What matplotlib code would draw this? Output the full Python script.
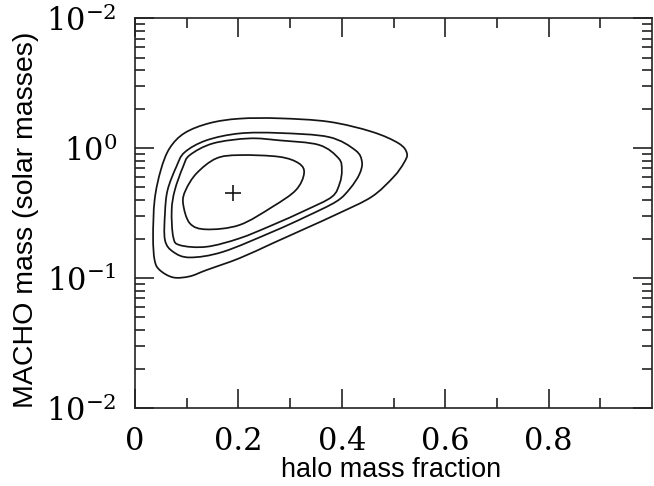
import numpy as np
import matplotlib.pyplot as plt
from matplotlib.path import Path
from matplotlib.patches import PathPatch
from matplotlib.ticker import FixedLocator, NullFormatter

plt.rcParams['mathtext.fontset'] = 'dejavuserif'

# contour outlines (halo fraction, MACHO mass)
c1_x = [0.327, 0.317, 0.279, 0.202, 0.157, 0.119, 0.098, 0.093, 0.106, 0.138, 0.202, 0.266, 0.311]
c1_m = [0.640, 0.764, 0.859, 0.885, 0.834, 0.640, 0.475, 0.376, 0.264, 0.237, 0.256, 0.354, 0.475]

c2_x = [0.400, 0.394, 0.356, 0.279, 0.221, 0.151, 0.106, 0.093, 0.077, 0.071, 0.074, 0.087,
        0.138, 0.202, 0.266, 0.330, 0.381, 0.396]
c2_m = [0.678, 0.834, 1.06, 1.15, 1.19, 1.09, 0.885, 0.72, 0.475, 0.333, 0.207, 0.179,
        0.174, 0.202, 0.256, 0.333, 0.423, 0.538]

c3_x = [0.439, 0.426, 0.375, 0.279, 0.202, 0.138, 0.096, 0.080, 0.063, 0.058, 0.058, 0.074,
        0.106, 0.170, 0.266, 0.330, 0.390, 0.416, 0.434]
c3_m = [0.785, 0.966, 1.22, 1.31, 1.30, 1.15, 0.93, 0.72, 0.475, 0.315, 0.196, 0.159,
        0.144, 0.159, 0.227, 0.296, 0.39, 0.49, 0.63]

c4_x = [0.526, 0.510, 0.458, 0.375, 0.279, 0.202, 0.144, 0.096, 0.067, 0.050, 0.038, 0.035,
        0.038, 0.048, 0.074, 0.106, 0.138, 0.202, 0.266, 0.330, 0.394, 0.458, 0.500, 0.520]
c4_m = [0.912, 1.09, 1.34, 1.60, 1.70, 1.69, 1.56, 1.31, 1.00, 0.68, 0.40, 0.207,
        0.137, 0.115, 0.101, 0.103, 0.115, 0.142, 0.185, 0.241, 0.315, 0.423, 0.600, 0.77]

best_x = 0.189
best_m = 0.449

xticks = [0, 0.2, 0.4, 0.6, 0.8]
xticklabels = ['0', '0.2', '0.4', '0.6', '0.8']
yticks = [0.01, 0.1, 1, 10]
yticklabels = [r'$10^{-2}$', r'$10^{-1}$', r'$10^{0}$', r'$10^{-2}$']


def closed_curve(xs, ms):
    # smooth closed outline through the read points (cubic bezier, log mass)
    p = np.column_stack([xs, np.log10(ms)])
    prev = np.roll(p, 1, axis=0)
    nxt = np.roll(p, -1, axis=0)
    tan = (nxt - prev) / 6
    verts = [p[0]]
    codes = [Path.MOVETO]
    n = len(p)
    for i in range(n):
        j = (i + 1) % n
        verts += [p[i] + tan[i], p[j] - tan[j], p[j]]
        codes += [Path.CURVE4] * 3
    verts = np.array(verts)
    verts[:, 1] = 10 ** verts[:, 1]
    return Path(verts, codes)


fig = plt.figure(figsize=(6.54, 4.86), dpi=100)
ax = fig.add_axes([0.2064, 0.161, 0.7906, 0.801])
ax.set_yscale('log')
ax.set_xlim(0, 1.0)
ax.set_ylim(0.01, 10)

for cx, cm in [(c1_x, c1_m), (c2_x, c2_m), (c3_x, c3_m), (c4_x, c4_m)]:
    ax.add_patch(PathPatch(closed_curve(cx, cm), facecolor='none',
                           edgecolor='#151515', lw=1.25))

ax.plot([best_x], [best_m], marker='+', color='#151515', ms=11, mew=1.2)

ax.set_xticks(xticks)
ax.set_xticklabels(xticklabels, family='DejaVu Serif', fontsize=22)
ax.xaxis.set_minor_locator(FixedLocator([0.1, 0.3, 0.5, 0.7, 0.9]))
ax.set_yticks(yticks)
ax.set_yticklabels(yticklabels, fontsize=22)
ax.yaxis.set_minor_locator(FixedLocator([k * 10.0 ** e for e in (-2, -1, 0) for k in range(2, 10)]))
ax.yaxis.set_minor_formatter(NullFormatter())

ax.tick_params(which='both', direction='in', top=True, right=True, color='#222222', width=1.2)
ax.tick_params(which='major', length=14, pad=13)
ax.tick_params(which='minor', length=7)
for s in ax.spines.values():
    s.set_linewidth(1.2)
    s.set_color('#222222')

ax.set_xlabel('halo mass fraction', family='Liberation Sans', fontsize=19.5)
ax.set_ylabel('MACHO mass (solar masses)', family='Liberation Sans', fontsize=20.5)
ax.xaxis.set_label_coords(0.495, -0.127)
ax.yaxis.set_label_coords(-0.186, 0.484)

fig.savefig('out.png', dpi=100)
